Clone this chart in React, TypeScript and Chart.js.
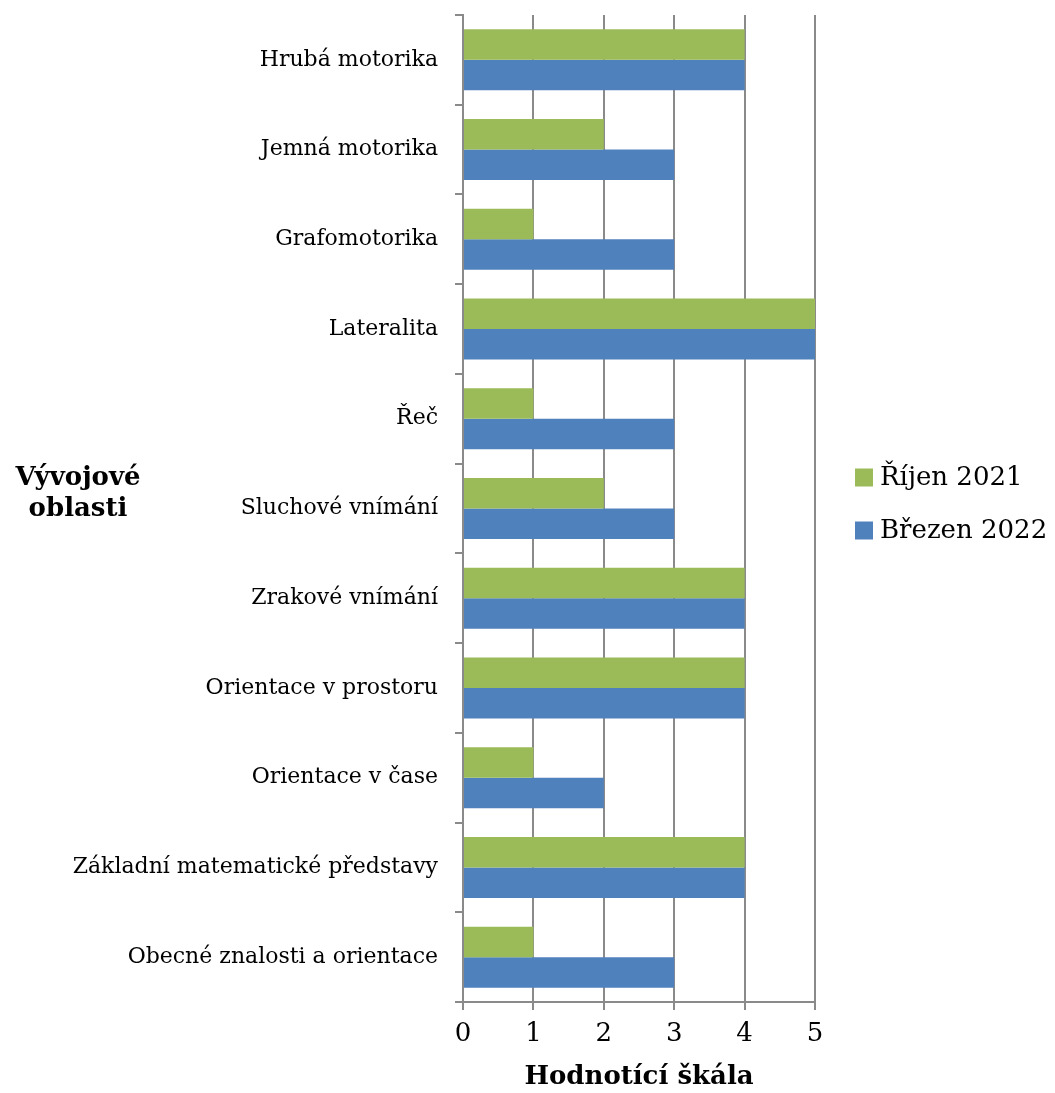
import React, { useEffect, useRef } from "react";
import { Chart, registerables } from "chart.js";

Chart.register(...registerables);

const categories = [
  "Hrubá motorika",
  "Jemná motorika",
  "Grafomotorika",
  "Lateralita",
  "Řeč",
  "Sluchové vnímání",
  "Zrakové vnímání",
  "Orientace v prostoru",
  "Orientace v čase",
  "Základní matematické představy",
  "Obecné znalosti a orientace",
];
const rijen2021 = [4, 2, 1, 5, 1, 2, 4, 4, 1, 4, 1];
const brezen2022 = [4, 3, 3, 5, 3, 3, 4, 4, 2, 4, 3];
const seriesNames = ["Říjen 2021", "Březen 2022"];
const seriesColors = ["#9BBB59", "#4F81BD"];
const yTitleLines = ["Vývojové", "oblasti"];
const xTitle = "Hodnotící škála";

const FONT = "'DejaVu Serif', serif";
const GRID = "#8a8a8a";

const extrasPlugin = {
  id: "extras",
  afterDraw(chart: any) {
    const { ctx, chartArea } = chart;
    const mid = (chartArea.top + chartArea.bottom) / 2;
    ctx.save();
    // y-axis title (horizontal, two lines)
    ctx.fillStyle = "#000";
    ctx.font = `bold 26px ${FONT}`;
    ctx.textAlign = "center";
    ctx.textBaseline = "middle";
    yTitleLines.forEach((t, i) => {
      ctx.fillText(t, 78, mid - 30 + i * 31);
    });
    // legend
    ctx.font = `26px ${FONT}`;
    ctx.textAlign = "left";
    seriesNames.forEach((name, i) => {
      const cy = mid - 31 + i * 53;
      ctx.fillStyle = seriesColors[i];
      ctx.fillRect(chartArea.right + 40, cy - 9, 18, 18);
      ctx.fillStyle = "#000";
      ctx.fillText(name, chartArea.right + 65, cy + 1);
    });
    ctx.restore();
  },
};

export default function App() {
  const ref = useRef<HTMLCanvasElement>(null);
  useEffect(() => {
    if (!ref.current) return;
    const chart = new Chart(ref.current, {
      type: "bar",
      data: {
        labels: categories,
        datasets: [
          {
            label: seriesNames[0],
            data: rijen2021,
            backgroundColor: seriesColors[0],
            categoryPercentage: 0.68,
            barPercentage: 1,
          },
          {
            label: seriesNames[1],
            data: brezen2022,
            backgroundColor: seriesColors[1],
            categoryPercentage: 0.68,
            barPercentage: 1,
          },
        ],
      },
      options: {
        indexAxis: "y",
        responsive: false,
        animation: false,
        devicePixelRatio: 1,
        layout: { padding: { top: 15, right: 240, left: 0, bottom: 0 } },
        plugins: {
          legend: { display: false },
          tooltip: { enabled: false },
        },
        scales: {
          x: {
            min: 0,
            max: 5,
            ticks: {
              stepSize: 1,
              color: "#000",
              padding: 9,
              font: { family: FONT, size: 26 },
            },
            grid: {
              color: GRID,
              lineWidth: 2,
              tickLength: 8,
            },
            border: { display: true, color: GRID, width: 2 },
            title: {
              display: true,
              text: xTitle,
              color: "#000",
              font: { family: FONT, size: 26, weight: "bold" },
              padding: { top: 0, bottom: 0 },
            },
            afterFit(scale: any) {
              scale.height = 91;
            },
          },
          y: {
            ticks: {
              color: "#000",
              padding: 17,
              font: { family: FONT, size: 22 },
            },
            grid: {
              color: GRID,
              lineWidth: 2,
              drawOnChartArea: false,
              drawTicks: true,
              tickLength: 8,
              offset: true,
            },
            border: { display: true, color: GRID, width: 2 },
            afterFit(scale: any) {
              scale.width = 463;
              scale.paddingTop = 0;
              scale.paddingBottom = 0;
            },
          },
        },
      },
      plugins: [extrasPlugin],
    } as any);
    return () => chart.destroy();
  }, []);
  return (
    <div style={{ position: "absolute", left: 0, top: 0, width: 1055, height: 1093, background: "#fff" }}>
      <canvas ref={ref} width={1055} height={1093} style={{ width: 1055, height: 1093 }} />
    </div>
  );
}
